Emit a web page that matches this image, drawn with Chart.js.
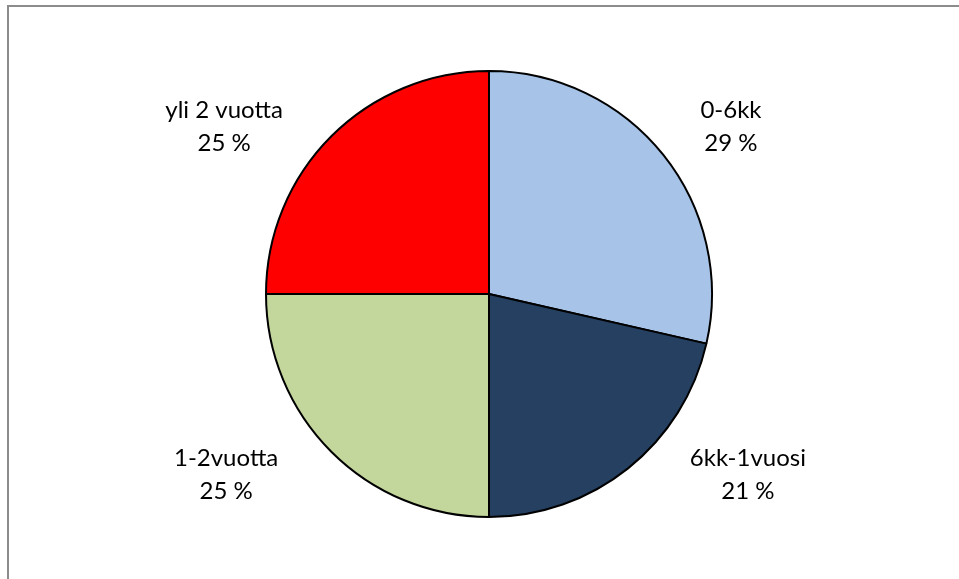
<!DOCTYPE html>
<html>
<head>
<meta charset="utf-8">
<script src="https://cdn.jsdelivr.net/npm/chart.js@4"></script>
<style>
  body { margin: 0; background: #fff; }
  #wrap { position: relative; width: 959px; height: 579px; overflow: hidden; }
  #frame { position: absolute; left: 7px; top: 5px; width: 1000px; height: 700px; border: 2px solid #8c8c8c; }
  canvas { position: absolute; left: 0; top: 0; }
</style>
</head>
<body>
<div id="wrap">
  <div id="frame"></div>
  <canvas id="pieChart" width="959" height="579"></canvas>
</div>
<script>
// data
var categories = ['0-6kk', '6kk-1vuosi', '1-2vuotta', 'yli 2 vuotta'];
var counts = [8, 6, 7, 7];
var sliceColors = ['#a7c4e8', '#254061', '#c3d69b', '#ff0000'];

// label anchor relative to pie centre, in radius units (baseline of first line)
var labelOffsets = [[1.085, -0.79], [1.161, 0.772], [-1.179, 0.772], [-1.188, -0.79]];

var total = counts.reduce((a, b) => a + b, 0);

var pieLabels = {
    id: 'pieLabels',
    afterDatasetsDraw(chart) {
        var ctx = chart.ctx;
        var arc = chart.getDatasetMeta(0).data[0];
        var cx = arc.x, cy = arc.y, r = arc.outerRadius;
        ctx.save();
        ctx.fillStyle = '#000';
        ctx.font = '24px Lato';
        ctx.textAlign = 'center';
        ctx.textBaseline = 'alphabetic';
        categories.forEach((name, i) => {
            var x = cx + labelOffsets[i][0] * r;
            var y = cy + labelOffsets[i][1] * r;
            var pct = Math.round(counts[i] / total * 100) + ' %';
            ctx.fillText(name, x, y);
            ctx.fillText(pct, x, y + 33);
        });
        ctx.restore();
    }
};

var ctx = document.getElementById('pieChart').getContext('2d');
new Chart(ctx, {
    type: 'pie',
    data: {
        labels: categories,
        datasets: [{
            data: counts,
            backgroundColor: sliceColors,
            borderColor: '#000',
            borderWidth: 2
        }]
    },
    options: {
        responsive: false,
        animation: false,
        layout: { padding: { left: 265, right: 246, top: 70, bottom: 61 } },
        plugins: {
            legend: { display: false },
            tooltip: { enabled: false }
        }
    },
    plugins: [pieLabels]
});
</script>
</body>
</html>
